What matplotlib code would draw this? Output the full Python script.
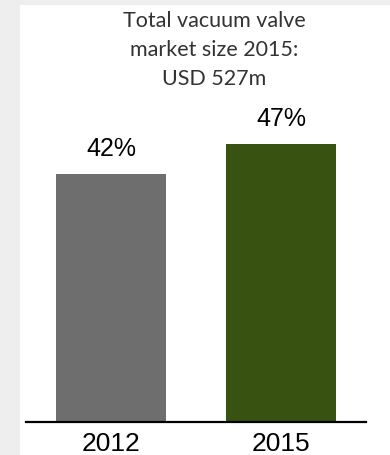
import matplotlib
matplotlib.use("Agg")
import matplotlib.pyplot as plt
from matplotlib.patches import Rectangle

# Data
years = ["2012", "2015"]
shares = [42, 47]
bar_colors = ["#6E6E6E", "#375211"]
title = "Total vacuum valve\nmarket size 2015:\nUSD 527m"

W, H = 390, 455
fig = plt.figure(figsize=(W / 100, H / 100), dpi=100, facecolor="#EEEEEE")

# white panel behind everything
fig.patches.append(Rectangle((20 / W, 0), 1 - 20 / W, 1 - 5 / H,
                             transform=fig.transFigure, facecolor="white",
                             edgecolor="none", zorder=-10))

ax = fig.add_axes([26 / W, 33 / H, 340 / W, 417 / H])
ax.set_facecolor("none")
ax.set_zorder(1)

x = range(len(years))
bars = ax.bar(x, shares, width=0.647, color=bar_colors)
ax.set_xlim(-0.5, 1.5)
ax.set_ylim(0, 417 / 5.905)

for b, v in zip(bars, shares):
    ax.text(b.get_x() + b.get_width() / 2, v + 2.2, f"{v}%",
            ha="center", va="bottom", fontsize=18, family="Liberation Sans")

ax.set_xticks(list(x))
ax.set_xticklabels(years, fontsize=19, family="Liberation Sans")
ax.tick_params(axis="x", length=0, pad=7)
ax.set_yticks([])
for s in ["top", "right", "left"]:
    ax.spines[s].set_visible(False)
ax.spines["bottom"].set_linewidth(1.6)
ax.spines["bottom"].set_color("black")

fig.text(214 / W, 1 - 11 / H, title, ha="center", va="top", fontsize=15.5,
         family="Lato", color="#333333", linespacing=1.55, zorder=5)

fig.savefig("out.png", dpi=100, facecolor=fig.get_facecolor())
